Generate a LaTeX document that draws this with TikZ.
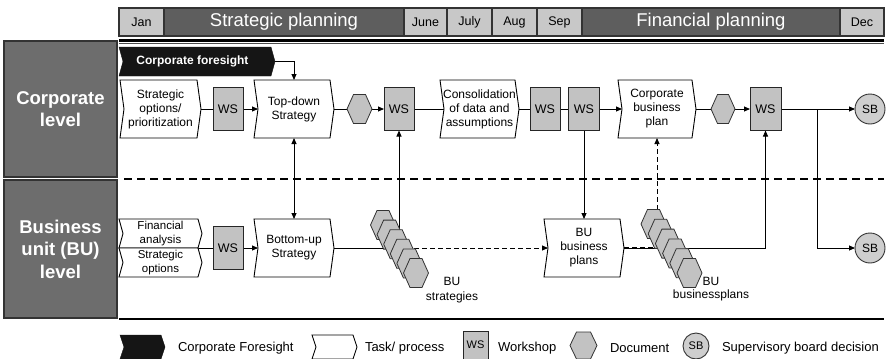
\documentclass[tikz,border=0pt]{standalone}
\usepackage{fontspec}
\setmainfont{Liberation Sans}
\usetikzlibrary{arrows.meta,backgrounds}

\makeatletter
% task shape: notched on the left, pointed on the right
\def\chevtip{4pt}
\pgfdeclareshape{chevron}{%
  \inheritsavedanchors[from=rectangle]%
  \inheritanchorborder[from=rectangle]%
  \inheritanchor[from=rectangle]{center}%
  \inheritanchor[from=rectangle]{north}%
  \inheritanchor[from=rectangle]{south}%
  \inheritanchor[from=rectangle]{east}%
  \inheritanchor[from=rectangle]{west}%
  \inheritanchor[from=rectangle]{north east}%
  \inheritanchor[from=rectangle]{north west}%
  \inheritanchor[from=rectangle]{south east}%
  \inheritanchor[from=rectangle]{south west}%
  \anchor{notch}{%
    \southwest \pgf@xa=\pgf@x \pgf@ya=\pgf@y
    \northeast \pgf@yb=\pgf@y
    \pgf@x=\pgf@xa \advance\pgf@x by \chevtip
    \pgf@y=.5\pgf@ya \advance\pgf@y by .5\pgf@yb
  }%
  \backgroundpath{%
    \southwest \pgf@xa=\pgf@x \pgf@ya=\pgf@y
    \northeast \pgf@xb=\pgf@x \pgf@yb=\pgf@y
    \pgf@yc=.5\pgf@ya \advance\pgf@yc by .5\pgf@yb
    \pgf@xc=\pgf@xb \advance\pgf@xc by -\chevtip
    \pgfpathmoveto{\pgfqpoint{\pgf@xa}{\pgf@yb}}%
    \pgfpathlineto{\pgfqpoint{\pgf@xc}{\pgf@yb}}%
    \pgfpathlineto{\pgfqpoint{\pgf@xb}{\pgf@yc}}%
    \pgfpathlineto{\pgfqpoint{\pgf@xc}{\pgf@ya}}%
    \pgfpathlineto{\pgfqpoint{\pgf@xa}{\pgf@ya}}%
    \pgf@xc=\pgf@xa \advance\pgf@xc by \chevtip
    \pgfpathlineto{\pgfqpoint{\pgf@xc}{\pgf@yc}}%
    \pgfpathclose
  }%
}
% document shape: hexagon with points left and right
\def\hexcut{6.5pt}
\pgfdeclareshape{hexdoc}{%
  \inheritsavedanchors[from=rectangle]%
  \inheritanchorborder[from=rectangle]%
  \inheritanchor[from=rectangle]{center}%
  \inheritanchor[from=rectangle]{north}%
  \inheritanchor[from=rectangle]{south}%
  \inheritanchor[from=rectangle]{east}%
  \inheritanchor[from=rectangle]{west}%
  \backgroundpath{%
    \southwest \pgf@xa=\pgf@x \pgf@ya=\pgf@y
    \northeast \pgf@xb=\pgf@x \pgf@yb=\pgf@y
    \pgf@yc=.5\pgf@ya \advance\pgf@yc by .5\pgf@yb
    \pgf@xc=\pgf@xa \advance\pgf@xc by \hexcut
    \pgf@x=\pgf@xb \advance\pgf@x by -\hexcut
    \edef\hexright{\the\pgf@x}%
    \pgfpathmoveto{\pgfqpoint{\pgf@xa}{\pgf@yc}}%
    \pgfpathlineto{\pgfqpoint{\pgf@xc}{\pgf@yb}}%
    \pgfpathlineto{\pgfqpoint{\hexright}{\pgf@yb}}%
    \pgfpathlineto{\pgfqpoint{\pgf@xb}{\pgf@yc}}%
    \pgfpathlineto{\pgfqpoint{\hexright}{\pgf@ya}}%
    \pgfpathlineto{\pgfqpoint{\pgf@xc}{\pgf@ya}}%
    \pgfpathclose
  }%
}
\makeatother

\definecolor{cellgray}{HTML}{C8C8C8}
\definecolor{bandgray}{HTML}{5E5E5E}
\definecolor{levelgray}{HTML}{6D6D6D}
\definecolor{wsgray}{HTML}{C2C2C2}
\definecolor{framegray}{HTML}{333333}
\definecolor{foreblack}{HTML}{151515}

\tikzset{
  every node/.style={inner sep=0pt, outer sep=0pt},
  month/.style={draw=framegray, line width=1.2pt, fill=cellgray, minimum height=28pt,
    font=\fontsize{12.5}{14}\selectfont},
  band/.style={draw=framegray, line width=1.2pt, fill=bandgray, minimum height=28pt,
    text=white, font=\fontsize{18.5}{22}\selectfont},
  level/.style={draw=framegray, line width=1.2pt, fill=levelgray, minimum width=113pt,
    text=white, align=center, font=\bfseries\fontsize{18.5}{22.5}\selectfont},
  task/.style={chevron, draw=black, line width=0.9pt, fill=white, align=center,
    minimum height=58pt, font=\fontsize{12}{14}\selectfont},
  halftask/.style={task, minimum height=29pt, font=\fontsize{11.5}{13.5}\selectfont},
  foresight/.style={chevron, draw=foreblack, fill=foreblack, text=white,
    font=\bfseries\fontsize{12}{14}\selectfont},
  ws/.style={draw=black!85, line width=1pt, fill=wsgray, minimum width=30pt,
    minimum height=43pt, font=\fontsize{12.5}{14}\selectfont},
  doc/.style={hexdoc, draw=black!80, line width=0.8pt, fill=wsgray,
    minimum width=25pt, minimum height=29pt},
  sb/.style={circle, draw=black!80, line width=0.9pt, fill=wsgray!80,
    minimum size=30pt, font=\fontsize{12}{14}\selectfont},
  note/.style={align=center, font=\fontsize{12}{15}\selectfont},
  legtext/.style={anchor=west, font=\fontsize{13}{15}\selectfont},
  conn/.style={line width=0.9pt},
  flow/.style={conn, -{Triangle[length=6pt,width=5pt]}},
  dflow/.style={flow, dash pattern=on 5pt off 3pt},
}

\begin{document}
\begin{tikzpicture}[x=1pt, y=-1pt]
\useasboundingbox (0,0) rectangle (887,359);

% time line
\node[month] (jan) at (141.5,22) [minimum width=45pt] {Jan};
\node[band] (strat) at (284,22) [minimum width=240pt] {Strategic planning};
\node[month] (june) at (425.5,22) [minimum width=43pt] {June};
\node[month] (july) at (469.5,22) [minimum width=45pt] {July};
\node[month] (aug) at (514.5,22) [minimum width=45pt] {Aug};
\node[month] (sep) at (559.5,22) [minimum width=45pt] {Sep};
\node[band] (fin) at (711,22) [minimum width=258pt] {Financial planning};
\node[month] (dec) at (862,22) [minimum width=44pt] {Dec};
\draw[line width=2.2pt] (119,40.5) -- (884,40.5);
\draw[line width=0.7pt, black!70] (119,43.5) -- (884,43.5);

% levels
\node[level, minimum height=136pt] (corp) at (60.5,109) {Corporate\\level};
\node[level, minimum height=138pt] (bul) at (60.5,249) {Business\\unit (BU)\\level};
\draw[line width=2.5pt, dash pattern=on 8pt off 5pt] (124,179) -- (884,179);
\draw[line width=2pt] (119,318.5) -- (884,318.5);

% corporate level
\node[foresight, minimum width=156pt, minimum height=29pt] (fs) at (197,61.5) {Corporate foresight\hspace*{9pt}};
\node[task, minimum width=81pt] (so) at (160.5,109) {Strategic\\options/\\prioritization};
\node[ws] (ws1) at (228,109) {WS};
\node[task, minimum width=80pt] (td) at (294,109) {Top-down\\Strategy};
\node[doc] (doc1) at (359.5,109) {};
\node[ws] (ws2) at (399,109) {WS};
\node[task, minimum width=79pt] (cons) at (479.5,109) {Consolidation\\of data and\\assumptions};
\node[ws] (ws3) at (545,109) {WS};
\node[ws, minimum width=31pt] (ws4) at (584,109) {WS};
\node[task, minimum width=78pt] (cbp) at (657,109) {Corporate\\business\\plan};
\node[doc, minimum width=24pt] (doc2) at (723,109) {};
\node[ws, minimum width=31pt] (ws5) at (765.5,109) {WS};
\node[sb] (sb1) at (870,109) {SB};
\coordinate (br) at (817,109);

% business unit level
\node[halftask, minimum width=83pt] (fa) at (160.5,233.5) {Financial\\analysis};
\node[halftask, minimum width=83pt] (sopt) at (160.5,262.5) {Strategic\\options};
\node[ws] (ws6) at (228,248) {WS};
\node[task, minimum width=80pt] (bus) at (294,248) {Bottom-up\\Strategy};
\node[task, minimum width=80pt] (bup) at (584,248) {BU\\business\\plans};
\node[sb] (sb2) at (870,248) {SB};

% stacks of documents
\foreach \k in {0,...,5}
  \node[doc] (s1\k) at ({383+6.6*\k},{225+9.6*\k}) {};
\foreach \k in {0,...,5}
  \node[doc] (s2\k) at ({653.5+7.2*\k},{224+9.8*\k}) {};
\node[note] (bst) at (452,290.5) {BU\\strategies};
\node[note, font=\fontsize{12}{12.5}\selectfont] (bbp) at (711,289) {BU\\businessplans};

% connectors (behind the shapes)
\begin{scope}[on background layer]
  \draw[conn] (so.east) -- (ws1.west);
  \draw[flow] (ws1.east) -- (td.notch);
  \draw[conn] (td.east) -- (doc1.west);
  \draw[flow] (doc1.east) -- (ws2.west);
  \draw[conn] (ws2.east) -- (cons.notch);
  \draw[conn] (cons.east) -- (ws3.west);
  \draw[conn] (ws3.east) -- (ws4.west);
  \draw[flow] (ws4.east) -- (cbp.notch);
  \draw[conn] (cbp.east) -- (doc2.west);
  \draw[flow] (doc2.east) -- (ws5.west);
  \draw[flow] (ws5.east) -- (sb1.west);
  \draw[flow] (br) |- (sb2.west);
  \draw[flow] (fs.east) -| (td.north);
  \draw[conn, {Triangle[length=6pt,width=5pt]}-{Triangle[length=6pt,width=5pt]}] (td.south) -- (bus.north);
  \draw[conn] ([xshift=-4pt]fa.south east) -- (ws6.west);
  \draw[flow] (ws6.east) -- (bus.notch);
  \draw[conn] (bus.east) -- (bus.east -| s13.center);
  \draw[dflow] (bus.east) -- (bup.notch);
  \draw[flow] (ws2.south |- s13.center) -- (ws2.south);
  \draw[flow] (ws4.south) -- (bup.north);
  \draw[flow] (bup.east) -| (ws5.south);
  \draw[conn, line width=1.3pt, dash pattern=on 5pt off 3pt] (bup.east) -- (bup.east -| s22.center);
  \draw[dflow] (cbp.south |- s21.center) -- (cbp.south);
\end{scope}

% legend
\node[foresight, minimum width=45pt, minimum height=24pt] (lfs) at (142.5,347) {};
\node[legtext] (lfst) at (178,348) {Corporate Foresight};
\node[task, minimum width=45pt, minimum height=24pt] (ltask) at (334.5,347) {};
\node[legtext] (ltaskt) at (365,348) {Task/ process};
\node[ws, minimum width=25pt, minimum height=28pt, font=\fontsize{11}{13}\selectfont] (lws) at (475.5,345) {WS};
\node[legtext] (lwst) at (498,348) {Workshop};
\node[doc, minimum width=27pt, minimum height=27pt] (ldoc) at (583.5,345.5) {};
\node[legtext] (ldoct) at (610,348) {Document};
\node[sb, minimum size=26pt, font=\fontsize{11}{13}\selectfont] (lsb) at (696,346) {SB};
\node[legtext] (lsbt) at (722,348) {Supervisory board decision};
\end{tikzpicture}
\end{document}
